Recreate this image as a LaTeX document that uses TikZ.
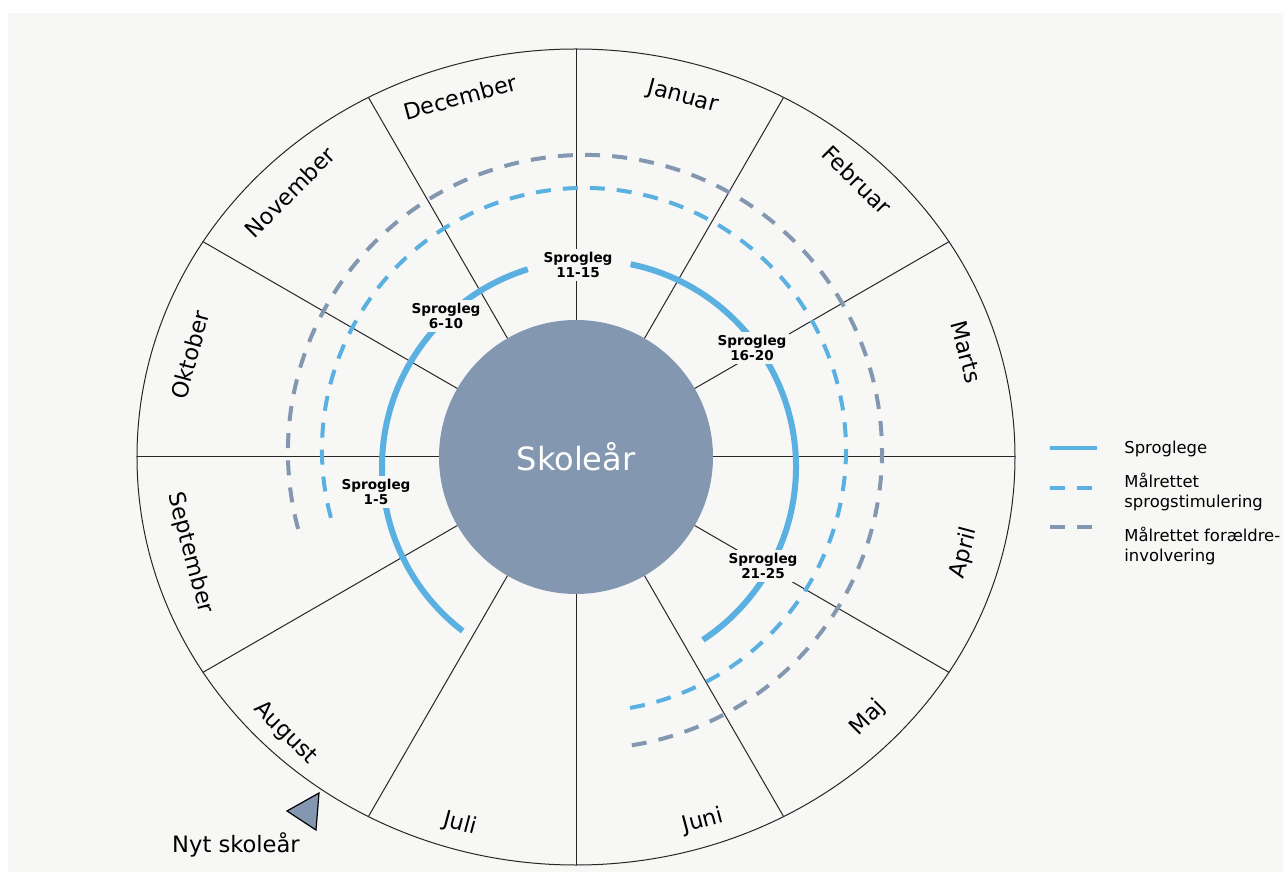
\documentclass[tikz,border=0pt]{standalone}
\usepackage{fontspec}
\setmainfont{DejaVu Sans}
\usetikzlibrary{positioning}

\definecolor{bgcol}{HTML}{F7F7F5}
\definecolor{lightblue}{RGB}{91,176,226}
\definecolor{slate}{HTML}{8497B0}

\begin{document}
\begin{tikzpicture}[
    x=0.5pt, y=0.5pt,
    monthlabel/.style={inner sep=0pt, font=\fontsize{11.2}{13}\selectfont},
    sproglabel/.style={fill=bgcol, inner sep=1.5pt, align=center, font=\bfseries\fontsize{6.8}{7.6}\selectfont},
    legendtext/.style={anchor=west, align=left, inner sep=0pt, font=\fontsize{8.2}{9.6}\selectfont},
    sprogline/.style={draw=lightblue, line width=3pt},
    stimline/.style={draw=lightblue, line width=2pt, dash pattern=on 7.5pt off 6pt},
    parentline/.style={draw=slate, line width=2pt, dash pattern=on 7.5pt off 6.11pt},
    spoke/.style={draw=black!85, line width=0.5pt}
]

\useasboundingbox (-576,-415) rectangle (707,457);
\fill[bgcol] (-568,-415) rectangle (707,444);

% Month sectors
\begin{scope}
\clip (0,0) ellipse[x radius=439, y radius=408];
\foreach \a in {0,30,...,330}
    \draw[spoke] (0,0) -- (\a:460);
\end{scope}
\draw[spoke] (0,0) ellipse[x radius=439, y radius=408];

% Dashed activities
\draw[parentline] (9,5) ++(195:297) arc[start angle=195, end angle=-81, radius=297];
\draw[stimline] (8,7) ++(195:262) arc[start angle=195, end angle=-80, radius=262];

% School year
\node[circle, fill=slate, minimum size=137pt, inner sep=0pt, text=white, font=\fontsize{16}{19}\selectfont] (year) at (0,0) {Skoleår};

% Sproglege
\draw[sprogline] (13,-10) ++(232.4:207) arc[start angle=232.4, end angle=107.2, radius=207];
\draw[sprogline] (13,-10) ++(78.4:207) arc[start angle=78.4, end angle=-56.6, radius=207];

\node[sproglabel] (sp1) at (-200,-35) {Sprogleg\\1-5};
\node[sproglabel] (sp2) at (-130,141) {Sprogleg\\6-10};
\node[sproglabel] (sp3) at (2,192) {Sprogleg\\11-15};
\node[sproglabel] (sp4) at (176,109) {Sprogleg\\16-20};
\node[sproglabel] (sp5) at (187,-109) {Sprogleg\\21-25};

% Months
\node[monthlabel, rotate=-15] (jan) at (107,360) {Januar};
\node[monthlabel, rotate=-45] (feb) at (281,277) {Februar};
\node[monthlabel, rotate=-75] (mar) at (390,105) {Marts};
\node[monthlabel, rotate=75] (apr) at (388,-96) {April};
\node[monthlabel, rotate=45] (maj) at (292,-261) {Maj};
\node[monthlabel, rotate=15] (jun) at (127,-364) {Juni};
\node[monthlabel, rotate=-15] (jul) at (-116,-367) {Juli};
\node[monthlabel, rotate=-45] (aug) at (-291,-276) {August};
\node[monthlabel, rotate=-75] (sep) at (-386,-96) {September};
\node[monthlabel, rotate=75] (okt) at (-386,102) {Oktober};
\node[monthlabel, rotate=45] (nov) at (-286,265) {November};
\node[monthlabel, rotate=15] (dec) at (-116,360) {December};

% New school year marker
\draw[fill=slate, line width=0.6pt] (-257,-336) -- (-289,-354) -- (-260,-373) -- cycle;
\node[font=\fontsize{11.3}{13}\selectfont] (newyear) at (-340,-388) {Nyt skoleår};

% Legend
\coordinate (lg1) at (474,9);
\coordinate (lg1e) at (521,9);
\coordinate (lg2) at (474,-31);
\coordinate (lg2e) at (521,-31);
\coordinate (lg3) at (474,-70);
\coordinate (lg3e) at (521,-70);
\draw[sprogline, line width=2pt] (lg1) -- (lg1e);
\draw[stimline] (lg2) -- (lg2e);
\draw[parentline] (lg3) -- (lg3e);

\node[legendtext] (leg1) at (548,8) {Sproglege};
\node[legendtext] (leg2) at (548,-35) {Målrettet\\sprogstimulering};
\node[legendtext] (leg3) at (548,-89) {Målrettet forældre-\\involvering};

\end{tikzpicture}
\end{document}
